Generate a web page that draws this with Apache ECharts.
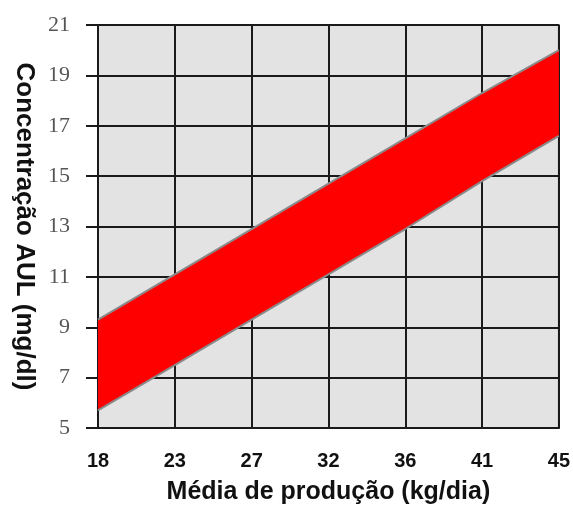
<!DOCTYPE html>
<html>
<head>
<meta charset="utf-8">
<script src="https://cdn.jsdelivr.net/npm/echarts@6/dist/echarts.min.js"></script>
<style>
  html, body { margin: 0; padding: 0; background: #fff; }
  #main { width: 573px; height: 511px; }
</style>
</head>
<body>
<div id="main"></div>
<script>
// x categories (kg/dia) and the two edges of the red band (mg/dl)
var producao = ['18', '23', '27', '32', '36', '41', '45'];
var limiteInferior = [5.7, 7.5, 9.3, 11.1, 12.9, 14.8, 16.6];
var limiteSuperior = [9.3, 11.1, 12.9, 14.7, 16.5, 18.3, 20.0];

// band height = upper - lower, stacked on top of the lower edge
var faixa = [];
for (var i = 0; i < limiteSuperior.length; i++) {
  faixa.push(+(limiteSuperior[i] - limiteInferior[i]).toFixed(2));
}

var myChart = echarts.init(document.getElementById('main'));

var option = {
  animation: false,
  grid: {
    left: 98,
    right: 7,
    top: 25,
    bottom: 83,
    show: true,
    backgroundColor: '#e3e3e3',
    borderColor: '#8a8a8a',
    borderWidth: 2
  },
  xAxis: {
    type: 'category',
    data: producao,
    boundaryGap: false,
    name: 'Média de produção (kg/dia)',
    nameLocation: 'middle',
    nameGap: 52,
    nameTextStyle: {
      fontFamily: 'Liberation Sans',
      fontWeight: 'bold',
      fontSize: 25,
      color: '#111'
    },
    axisLine: { lineStyle: { color: '#1a1a1a', width: 2 } },
    axisTick: { show: false },
    axisLabel: {
      margin: 23,
      fontFamily: 'Liberation Sans',
      fontWeight: 'bold',
      fontSize: 20,
      color: '#111'
    },
    splitLine: { show: true, lineStyle: { color: '#1a1a1a', width: 2 } }
  },
  yAxis: {
    type: 'value',
    min: 5,
    max: 21,
    interval: 2,
    name: 'Concentração AUL (mg/dl)',
    nameLocation: 'middle',
    nameRotate: -90,
    nameGap: 55,
    nameTextStyle: {
      fontFamily: 'Liberation Sans',
      fontWeight: 'bold',
      fontSize: 26,
      color: '#111'
    },
    axisLine: { show: true, lineStyle: { color: '#1a1a1a', width: 2 } },
    axisTick: { show: true, length: 12, lineStyle: { color: '#1a1a1a', width: 2 } },
    axisLabel: {
      margin: 28,
      fontFamily: 'Liberation Serif',
      fontSize: 22,
      color: '#555'
    },
    splitLine: { show: true, lineStyle: { color: '#1a1a1a', width: 2 } }
  },
  series: [
    {
      name: 'inferior',
      type: 'line',
      stack: 'faixa',
      data: limiteInferior,
      symbol: 'none',
      lineStyle: { color: '#8a8a8a', width: 2 },
      areaStyle: { opacity: 0 },
      z: 3
    },
    {
      name: 'faixa',
      type: 'line',
      stack: 'faixa',
      data: faixa,
      symbol: 'none',
      lineStyle: { color: '#8a8a8a', width: 2 },
      areaStyle: { color: '#ff0000', opacity: 1 },
      z: 2
    }
  ]
};

myChart.setOption(option);
</script>
</body>
</html>
